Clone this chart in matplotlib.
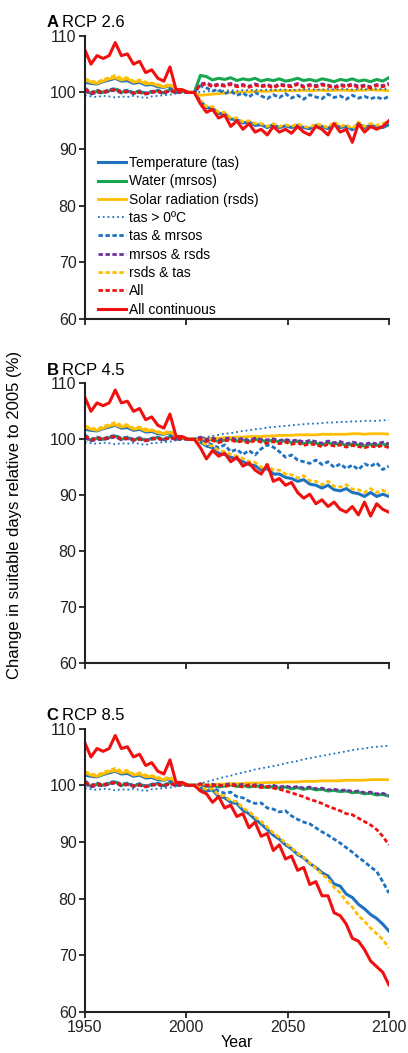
import matplotlib
matplotlib.use("Agg")
import matplotlib.pyplot as plt

# one value every 3 years, 1950..2100
YEARS = list(range(1950, 2101, 3))

LABELS = ["Temperature (tas)", "Water (mrsos)", "Solar radiation (rsds)",
          "tas > 0\u00baC", "tas & mrsos", "mrsos & rsds", "rsds & tas",
          "All", "All continuous"]
PANELS = [("A", "RCP 2.6"), ("B", "RCP 4.5"), ("C", "RCP 8.5")]

# 1950-2004, shared by all scenarios
H_TAS = [101.8, 101.6, 101.5, 101.9, 102.2, 102.5, 102.0, 102.1, 101.6, 101.8, 101.3, 101.4, 101.0, 100.9, 101.2, 100.4, 100.3, 100.0, 100.0]
H_MRSOS = [100.5, 99.8, 100.2, 100.0, 100.3, 100.6, 100.0, 100.3, 99.9, 100.2, 99.8, 100.1, 100.3, 99.9, 100.5, 100.0, 100.2, 100.0, 100.0]
H_RSDS = [102.2, 101.8, 101.6, 102.0, 102.4, 102.6, 102.2, 102.4, 101.8, 102.0, 101.5, 101.6, 101.2, 101.0, 101.2, 100.5, 100.3, 100.0, 100.0]
H_TAS0 = [99.5, 99.3, 99.2, 99.4, 99.3, 99.1, 99.3, 99.2, 99.4, 99.2, 99.0, 99.3, 99.4, 99.5, 99.6, 99.8, 99.9, 100.0, 100.0]
H_TASMRSOS = [100.8, 100.0, 100.4, 100.1, 100.5, 100.7, 100.2, 100.4, 100.0, 100.3, 99.9, 100.2, 100.4, 100.0, 100.7, 100.1, 100.3, 100.0, 100.0]
H_MRSOSRSDS = [100.3, 99.7, 100.0, 99.9, 100.2, 100.4, 99.9, 100.1, 99.8, 100.0, 99.7, 100.0, 100.1, 99.8, 100.3, 99.9, 100.1, 100.0, 100.0]
H_RSDSTAS = [102.4, 102.0, 101.8, 102.3, 102.6, 103.0, 102.5, 102.6, 102.0, 102.2, 101.8, 101.7, 101.4, 101.1, 101.5, 100.6, 100.4, 100.1, 100.0]
H_ALL = [100.6, 99.9, 100.3, 100.0, 100.4, 100.5, 100.1, 100.2, 99.9, 100.1, 99.8, 100.1, 100.2, 99.9, 100.4, 100.0, 100.2, 100.0, 100.0]
H_ALLC = [107.5, 105.0, 106.5, 106.0, 106.5, 108.8, 106.5, 106.8, 105.0, 105.5, 103.5, 104.0, 102.5, 102.0, 104.5, 100.5, 100.5, 100.0, 100.0]

# RCP 2.6, 2007-2100
A_TAS = [98.5, 97.3, 97.2, 96.3, 96.2, 95.3, 95.2, 94.6, 94.8, 94.2, 94.3, 93.8, 94.3, 93.8, 94.1, 93.8, 94.2, 93.8, 93.6, 94.2, 94.0, 93.6, 94.5, 93.8, 94.0, 93.4, 94.5, 93.8, 94.2, 93.9, 93.8, 94.3]
A_MRSOS = [103.0, 102.8, 102.2, 102.5, 102.3, 102.6, 102.1, 102.4, 102.2, 102.5, 102.0, 102.3, 102.1, 102.4, 102.0, 102.2, 102.5, 102.1, 102.3, 102.0, 102.4, 102.2, 101.9, 102.3, 102.1, 102.4, 102.0, 102.2, 101.9, 102.3, 102.0, 102.6]
A_RSDS = [99.5, 99.6, 99.7, 99.8, 99.9, 100.0, 100.0, 100.1, 100.1, 100.2, 100.2, 100.2, 100.3, 100.3, 100.3, 100.3, 100.3, 100.4, 100.3, 100.4, 100.4, 100.3, 100.4, 100.4, 100.4, 100.3, 100.4, 100.4, 100.5, 100.4, 100.4, 100.3]
A_TAS0 = [100.1, 100.2, 100.2, 100.3, 100.3, 100.4, 100.3, 100.4, 100.4, 100.5, 100.4, 100.5, 100.4, 100.5, 100.5, 100.4, 100.5, 100.5, 100.6, 100.5, 100.5, 100.6, 100.5, 100.6, 100.6, 100.5, 100.6, 100.6, 100.5, 100.6, 100.6, 100.6]
A_TASMRSOS = [101.2, 100.8, 100.3, 100.5, 99.8, 100.2, 99.5, 99.9, 99.2, 100.0, 99.4, 98.9, 99.6, 99.1, 99.8, 99.0, 99.5, 98.8, 99.6, 99.2, 98.9, 99.7, 99.1, 99.4, 98.8, 99.5, 99.0, 99.3, 98.9, 99.2, 98.8, 99.3]
A_MRSOSRSDS = [101.5, 101.7, 101.2, 101.5, 101.3, 101.6, 101.2, 101.4, 101.1, 101.5, 101.2, 101.4, 101.0, 101.5, 101.3, 101.2, 101.6, 101.1, 101.4, 101.2, 101.5, 101.3, 101.0, 101.4, 101.2, 101.5, 101.1, 101.3, 101.0, 101.4, 101.2, 101.6]
A_RSDSTAS = [98.5, 97.5, 97.5, 96.5, 96.5, 95.5, 95.5, 94.8, 95.0, 94.5, 94.5, 94.0, 94.5, 94.0, 94.3, 94.0, 94.5, 94.0, 93.8, 94.5, 94.2, 93.8, 94.8, 94.0, 94.3, 93.6, 94.8, 94.0, 94.5, 94.2, 94.5, 95.0]
A_ALL = [101.3, 101.5, 101.0, 101.3, 101.1, 101.4, 101.0, 101.2, 100.9, 101.3, 101.0, 101.2, 100.8, 101.3, 101.1, 101.0, 101.4, 100.9, 101.2, 101.0, 101.3, 101.1, 100.8, 101.2, 101.0, 101.3, 100.9, 101.1, 100.8, 101.2, 101.0, 101.4]
A_ALLC = [98.0, 96.5, 97.0, 95.5, 96.0, 94.0, 95.0, 93.5, 94.5, 93.0, 93.5, 92.5, 94.0, 93.0, 93.5, 92.8, 94.0, 93.0, 92.5, 94.0, 93.5, 92.5, 94.5, 93.0, 93.5, 91.2, 94.5, 93.0, 94.0, 93.5, 94.0, 95.0]

# RCP 4.5
B_TAS = [99.5, 98.8, 98.5, 97.5, 97.3, 96.8, 96.5, 96.0, 95.5, 95.3, 94.5, 94.8, 93.8, 93.8, 93.2, 93.0, 92.5, 92.8, 92.0, 91.8, 91.3, 91.8, 91.0, 90.8, 91.2, 90.5, 90.3, 89.8, 90.5, 89.8, 90.2, 89.8]
B_MRSOS = [100.2, 99.8, 100.0, 99.6, 99.9, 100.1, 99.7, 99.9, 99.6, 100.0, 99.8, 99.6, 99.9, 99.5, 99.8, 99.4, 99.7, 99.2, 99.5, 99.3, 99.0, 99.4, 99.1, 99.3, 98.9, 99.2, 99.0, 98.8, 99.1, 98.9, 99.2, 98.8]
B_RSDS = [100.0, 100.1, 100.2, 100.2, 100.3, 100.3, 100.4, 100.4, 100.5, 100.5, 100.5, 100.6, 100.6, 100.7, 100.7, 100.7, 100.8, 100.8, 100.8, 100.8, 100.9, 100.9, 100.9, 100.9, 100.9, 101.0, 101.0, 100.9, 101.0, 101.0, 101.0, 100.9]
B_TAS0 = [100.2, 100.4, 100.6, 100.8, 101.0, 101.1, 101.3, 101.5, 101.6, 101.8, 101.9, 102.1, 102.2, 102.3, 102.4, 102.5, 102.6, 102.7, 102.8, 102.8, 102.9, 103.0, 103.0, 103.1, 103.1, 103.2, 103.2, 103.3, 103.3, 103.3, 103.4, 103.4]
B_TASMRSOS = [99.8, 99.5, 99.0, 98.5, 99.0, 97.8, 98.2, 97.3, 98.0, 97.2, 98.3, 99.0, 98.6, 97.8, 96.8, 97.2, 96.3, 96.0, 95.7, 96.3, 95.5, 96.0, 95.0, 95.6, 94.8, 95.4, 94.6, 95.6, 95.2, 95.8, 94.6, 95.2]
B_MRSOSRSDS = [100.4, 100.0, 100.2, 99.9, 100.1, 100.3, 99.9, 100.2, 99.8, 100.2, 100.0, 99.9, 100.1, 99.8, 100.0, 99.7, 99.9, 99.5, 99.8, 99.6, 99.3, 99.7, 99.4, 99.6, 99.2, 99.5, 99.3, 99.1, 99.4, 99.2, 99.5, 99.2]
B_RSDSTAS = [99.6, 99.0, 98.8, 98.0, 97.8, 97.3, 97.0, 96.6, 96.0, 95.9, 95.0, 95.5, 94.5, 94.5, 93.8, 93.7, 93.1, 93.5, 92.6, 92.5, 91.9, 92.5, 91.6, 91.5, 91.9, 91.1, 91.0, 90.5, 91.2, 90.5, 90.9, 90.4]
B_ALL = [100.0, 99.6, 99.8, 99.4, 99.7, 99.9, 99.5, 99.7, 99.3, 99.8, 99.5, 99.3, 99.6, 99.2, 99.5, 99.1, 99.4, 98.9, 99.2, 99.0, 98.7, 99.1, 98.8, 99.0, 98.6, 98.9, 98.7, 98.5, 98.8, 98.6, 98.9, 98.5]
B_ALLC = [98.5, 96.5, 98.0, 97.0, 97.5, 96.0, 96.8, 95.2, 95.8, 94.5, 93.8, 95.5, 92.5, 93.0, 91.8, 92.3, 90.5, 89.5, 90.2, 88.5, 89.2, 88.0, 88.8, 87.5, 87.0, 88.0, 86.5, 88.8, 86.3, 88.5, 87.5, 87.0]

# RCP 8.5
C_TAS = [99.5, 99.0, 99.2, 98.0, 97.8, 97.0, 96.8, 95.6, 95.0, 94.0, 93.2, 92.2, 91.2, 90.5, 89.5, 88.8, 87.8, 87.2, 86.2, 85.5, 84.6, 84.0, 82.6, 82.2, 80.8, 80.2, 79.0, 78.2, 77.2, 76.5, 75.5, 74.3]
C_MRSOS = [100.1, 99.8, 100.0, 99.7, 99.9, 100.1, 99.8, 100.0, 99.7, 99.9, 99.8, 99.6, 99.8, 99.5, 99.7, 99.4, 99.6, 99.3, 99.5, 99.2, 99.3, 99.0, 99.1, 98.9, 99.0, 98.7, 98.8, 98.5, 98.6, 98.3, 98.4, 98.1]
C_RSDS = [100.0, 100.1, 100.1, 100.2, 100.2, 100.3, 100.3, 100.3, 100.4, 100.4, 100.4, 100.5, 100.5, 100.5, 100.6, 100.6, 100.6, 100.7, 100.7, 100.7, 100.8, 100.8, 100.8, 100.8, 100.9, 100.9, 100.9, 100.9, 101.0, 101.0, 101.0, 101.0]
C_TAS0 = [100.3, 100.6, 100.9, 101.2, 101.5, 101.7, 102.0, 102.3, 102.5, 102.8, 103.0, 103.2, 103.4, 103.6, 103.9, 104.1, 104.3, 104.6, 104.8, 105.0, 105.2, 105.4, 105.6, 105.8, 106.0, 106.2, 106.4, 106.5, 106.7, 106.8, 106.9, 107.0]
C_TASMRSOS = [100.0, 99.5, 99.6, 99.0, 98.6, 98.8, 98.0, 97.8, 97.2, 96.8, 96.9, 96.0, 95.8, 95.3, 95.5, 94.6, 94.0, 93.5, 93.2, 92.5, 91.8, 91.2, 90.5, 89.8, 89.0, 88.2, 87.3, 86.5, 85.6, 84.8, 83.0, 81.0]
C_MRSOSRSDS = [100.3, 100.0, 100.2, 99.9, 100.1, 100.3, 100.0, 100.2, 99.9, 100.1, 100.0, 99.8, 100.0, 99.7, 99.9, 99.6, 99.8, 99.5, 99.7, 99.4, 99.5, 99.2, 99.3, 99.1, 99.2, 98.9, 99.0, 98.7, 98.8, 98.5, 98.6, 98.2]
C_RSDSTAS = [99.7, 99.3, 99.4, 98.3, 98.1, 97.3, 97.1, 96.0, 95.4, 94.4, 93.6, 92.6, 91.6, 90.8, 89.8, 89.0, 88.0, 87.3, 86.3, 85.4, 84.3, 83.5, 82.0, 81.0, 79.5, 78.5, 77.0, 76.0, 74.8, 73.8, 72.8, 71.3]
C_ALL = [100.2, 100.0, 99.9, 100.1, 99.8, 100.0, 99.9, 99.7, 100.1, 99.8, 99.6, 99.8, 99.5, 99.3, 99.0, 98.7, 98.3, 98.0, 97.5, 97.2, 96.8, 96.3, 95.9, 95.5, 95.0, 94.8, 94.2, 93.6, 93.0, 92.2, 91.0, 89.5]
C_ALLC = [99.0, 98.5, 97.0, 98.0, 96.0, 96.5, 94.5, 95.0, 92.5, 93.5, 91.0, 91.5, 88.5, 89.5, 87.0, 87.5, 85.0, 85.5, 82.5, 83.0, 80.5, 80.5, 77.5, 77.0, 75.5, 73.0, 72.5, 71.0, 69.0, 68.0, 67.0, 64.8]

HIST = [H_TAS, H_MRSOS, H_RSDS, H_TAS0, H_TASMRSOS, H_MRSOSRSDS, H_RSDSTAS, H_ALL, H_ALLC]
FUTURE = [
    [A_TAS, A_MRSOS, A_RSDS, A_TAS0, A_TASMRSOS, A_MRSOSRSDS, A_RSDSTAS, A_ALL, A_ALLC],
    [B_TAS, B_MRSOS, B_RSDS, B_TAS0, B_TASMRSOS, B_MRSOSRSDS, B_RSDSTAS, B_ALL, B_ALLC],
    [C_TAS, C_MRSOS, C_RSDS, C_TAS0, C_TASMRSOS, C_MRSOSRSDS, C_RSDSTAS, C_ALL, C_ALLC],
]

BLUE = "#1f72c0"
GREEN = "#17a84f"
YELLOW = "#ffbf00"
PURPLE = "#7030a0"
RED = "#f01010"
DASH = (0, (1.6, 0.9))
STYLES = [(BLUE, "-", 2.2), (GREEN, "-", 2.2), (YELLOW, "-", 2.0),
          (BLUE, ":", 1.3), (BLUE, DASH, 2.0), (PURPLE, DASH, 2.0),
          (YELLOW, DASH, 2.0), (RED, DASH, 2.0), (RED, "-", 2.2)]

plt.rcParams['font.family'] = ['Liberation Sans', 'DejaVu Sans']
fig = plt.figure(figsize=(4.08, 10.53), dpi=100)

boxes = [(0.966, 0.697), (0.636, 0.370), (0.308, 0.039)]
axes = []
for p, (top, bottom) in enumerate(boxes):
    ax = fig.add_axes([0.208, bottom, 0.745, top - bottom])
    for s in range(len(LABELS)):
        color, ls, lw = STYLES[s]
        ax.plot(YEARS, HIST[s] + FUTURE[p][s], color=color, linestyle=ls,
                lw=lw, label=LABELS[s])
    ax.set_xlim(1950, 2100)
    ax.set_ylim(60, 110)
    ax.set_xticks([1950, 2000, 2050, 2100])
    ax.set_yticks([60, 70, 80, 90, 100, 110])
    for side in ["top", "right"]:
        ax.spines[side].set_visible(False)
    for side in ["left", "bottom"]:
        ax.spines[side].set_linewidth(1.5)
        ax.spines[side].set_color("#222222")
    ax.tick_params(direction="out", length=4, width=1.3, labelsize=11.5,
                   colors="#222222", pad=2)
    if p < 2:
        ax.tick_params(axis="x", labelbottom=False)
    letter, name = PANELS[p]
    ax.text(-0.125, 1.03, letter, transform=ax.transAxes, fontsize=12,
            fontweight="bold", va="baseline", ha="left")
    ax.text(-0.074, 1.03, name, transform=ax.transAxes, fontsize=12,
            va="baseline", ha="left")
    axes.append(ax)

axes[0].legend(loc="upper left", bbox_to_anchor=(0.025, 0.595), frameon=False,
               fontsize=10, handlelength=2.0, handletextpad=0.2,
               labelspacing=0.31, borderaxespad=0)
axes[2].set_xlabel("Year", fontsize=11.5, labelpad=0)
fig.text(0.035, 0.511, "Change in suitable days relative to 2005 (%)",
         rotation=90, va="center", ha="center", fontsize=12)

fig.savefig("out.png", dpi=100)
